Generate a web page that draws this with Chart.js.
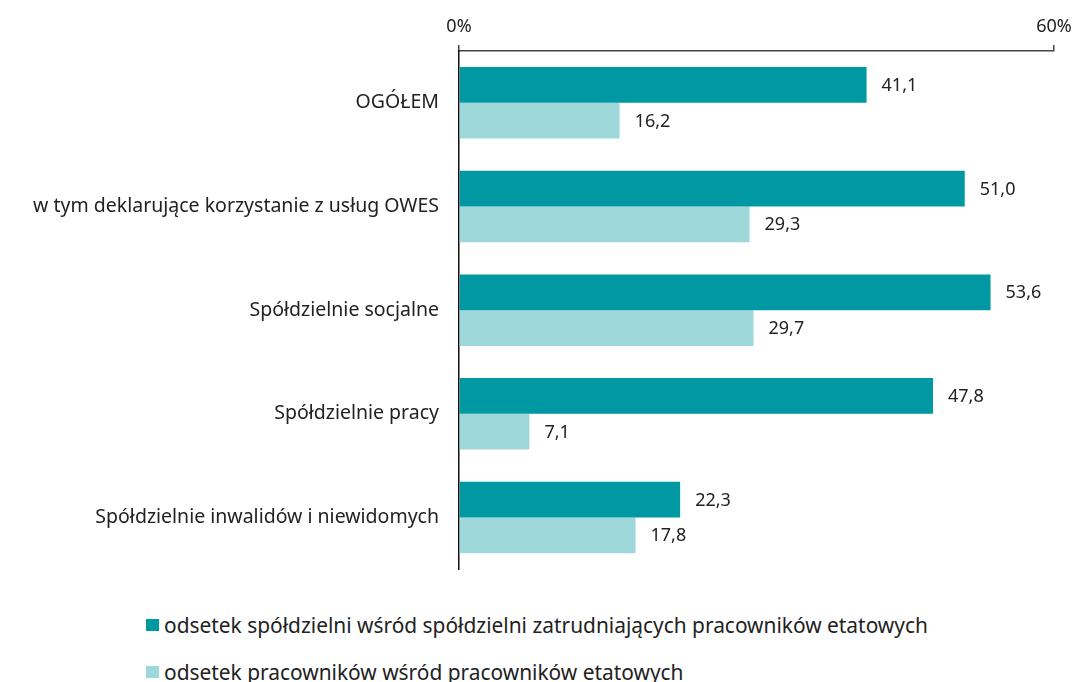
<!DOCTYPE html>
<html>
<head>
<meta charset="utf-8">
<script src="https://cdn.jsdelivr.net/npm/chart.js@4"></script>
<style>
  html, body { margin: 0; padding: 0; background: #fff; }
  body { width: 1074px; height: 682px; position: relative; overflow: hidden; font-family: "Noto Sans", sans-serif; }
  #wrap { position: absolute; left: 0; top: 0; width: 1074px; height: 593px; }
  .legend { position: absolute; left: 146px; font-size: 20.9px; color: #222; display: flex; align-items: center; white-space: nowrap; }
  .legend span.box { display: inline-block; width: 13px; height: 12px; margin-right: 5px; }
</style>
</head>
<body>
<div id="wrap"><canvas id="chart"></canvas></div>
<div class="legend" style="top: 611px;"><span class="box" style="background:#0099a3"></span>odsetek spółdzielni wśród spółdzielni zatrudniających pracowników etatowych</div>
<div class="legend" style="top: 658px;"><span class="box" style="background:#9ed8db"></span>odsetek pracowników wśród pracowników etatowych</div>
<script>
// categories and series
const categories = [
    'OGÓŁEM',
    'w tym deklarujące korzystanie z usług OWES',
    'Spółdzielnie socjalne',
    'Spółdzielnie pracy',
    'Spółdzielnie inwalidów i niewidomych'
];
const seriesNames = [
    'odsetek spółdzielni wśród spółdzielni zatrudniających pracowników etatowych',
    'odsetek pracowników wśród pracowników etatowych'
];
const cooperativesShare = [41.1, 51.0, 53.6, 47.8, 22.3];
const employeesShare = [16.2, 29.3, 29.7, 7.1, 17.8];
const axisMin = 0;
const axisMax = 60;

const FONT = '"Noto Sans", sans-serif';
const TEXT = '#222222';
const AXIS = '#444444';

// value labels to the right of each bar
const valueLabels = {
    id: 'valueLabels',
    afterDatasetsDraw(chart) {
        const ctx = chart.ctx;
        ctx.save();
        ctx.font = '18px ' + FONT;
        ctx.fillStyle = TEXT;
        ctx.textAlign = 'left';
        ctx.textBaseline = 'middle';
        chart.data.datasets.forEach((ds, i) => {
            chart.getDatasetMeta(i).data.forEach((bar, j) => {
                const txt = ds.data[j].toFixed(1).replace('.', ',');
                ctx.fillText(txt, bar.x + 15, bar.y + 1);
            });
        });
        ctx.restore();
    }
};

new Chart(document.getElementById('chart'), {
    type: 'bar',
    data: {
        labels: categories,
        datasets: [
            { label: seriesNames[0], data: cooperativesShare, backgroundColor: '#0099a3' },
            { label: seriesNames[1], data: employeesShare, backgroundColor: '#9ed8db' }
        ]
    },
    options: {
        indexAxis: 'y',
        responsive: true,
        maintainAspectRatio: false,
        animation: false,
        layout: { padding: { top: 0, right: 20, bottom: 12, left: 0 } },
        categoryPercentage: 0.69,
        barPercentage: 1.0,
        plugins: {
            legend: { display: false },
            tooltip: { enabled: false }
        },
        scales: {
            x: {
                position: 'top',
                min: axisMin,
                max: axisMax,
                afterFit: (scale) => {
                    scale.height = 51;
                    scale.paddingLeft = 0;
                    scale.paddingRight = 0;
                },
                ticks: {
                    stepSize: 60,
                    padding: 7,
                    color: TEXT,
                    font: { family: FONT, size: 18 },
                    callback: (v) => v + '%'
                },
                grid: {
                    drawOnChartArea: false,
                    drawTicks: true,
                    tickLength: 6,
                    color: AXIS,
                    lineWidth: 1.5
                },
                border: { display: true, color: AXIS, width: 1.5 }
            },
            y: {
                afterFit: (scale) => { scale.width = 459; },
                ticks: {
                    padding: 12,
                    color: TEXT,
                    font: { family: FONT, size: 19.5 }
                },
                grid: { display: false },
                border: { display: true, color: '#111', width: 1.5 }
            }
        }
    },
    plugins: [valueLabels]
});
</script>
</body>
</html>
